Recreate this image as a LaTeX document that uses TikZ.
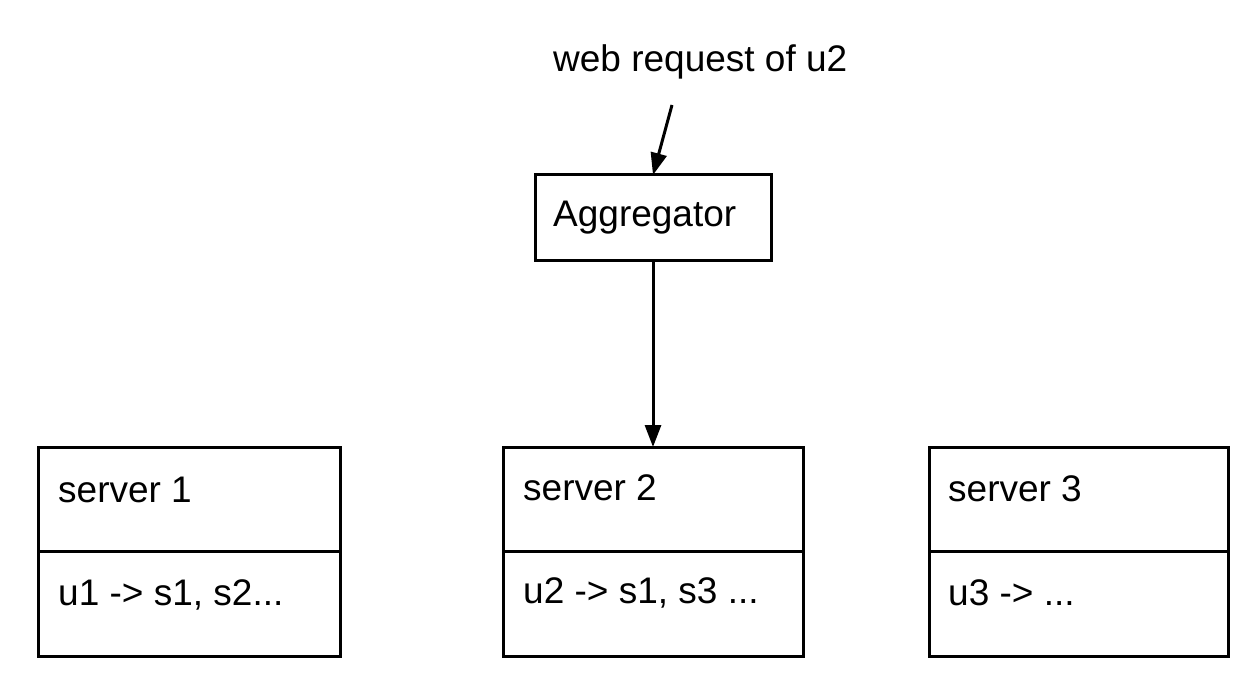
\documentclass[tikz,border=0pt]{standalone}
\usepackage{fontspec}
\setmainfont{Liberation Sans}
\usetikzlibrary{arrows.meta}
\begin{document}
\begin{tikzpicture}[x=1pt,y=-1pt,
  box/.style={draw=black,line width=3pt,minimum width=300pt,inner sep=0pt,outer sep=0pt},
  lbl/.style={inner sep=0pt,anchor=base west,font=\fontsize{37}{44}\selectfont},
  arr/.style={line width=3pt,-{Triangle[length=22pt,width=16pt]}}]
\useasboundingbox (0,0) rectangle (1258,692);
% aggregator
\node[box,minimum width=236pt,minimum height=86pt] (agg) at (653,218) {};
\node[lbl] (aggt) at (553,227) {Aggregator};
\node[lbl] (web) at (553,72) {web request of u2};
\coordinate (wstart) at (672,105);
% servers
\node[box,minimum width=302pt,minimum height=104pt] (s1t) at (189,499) {};
\node[box,minimum width=302pt,minimum height=105pt] (s1b) at (189,603.5) {};
\node[box,minimum width=300pt,minimum height=104pt] (s2t) at (653,499) {};
\node[box,minimum width=300pt,minimum height=105pt] (s2b) at (653,603.5) {};
\node[box,minimum width=299pt,minimum height=104pt] (s3t) at (1078.5,499) {};
\node[box,minimum width=299pt,minimum height=105pt] (s3b) at (1078.5,603.5) {};
\node[lbl] (l1t) at (58,502) {server 1};
\node[lbl] (l1b) at (58,605) {u1 -> s1, s2...};
\node[lbl] (l2t) at (523,500) {server 2};
\node[lbl] (l2b) at (523,603) {u2 -> s1, s3 ...};
\node[lbl] (l3t) at (948,501) {server 3};
\node[lbl] (l3b) at (948,605) {u3 -> ...};
% connectors
\draw[arr] (wstart) -- (agg.north);
\draw[arr] (agg.south) -- (s2t.north);
\end{tikzpicture}
\end{document}
